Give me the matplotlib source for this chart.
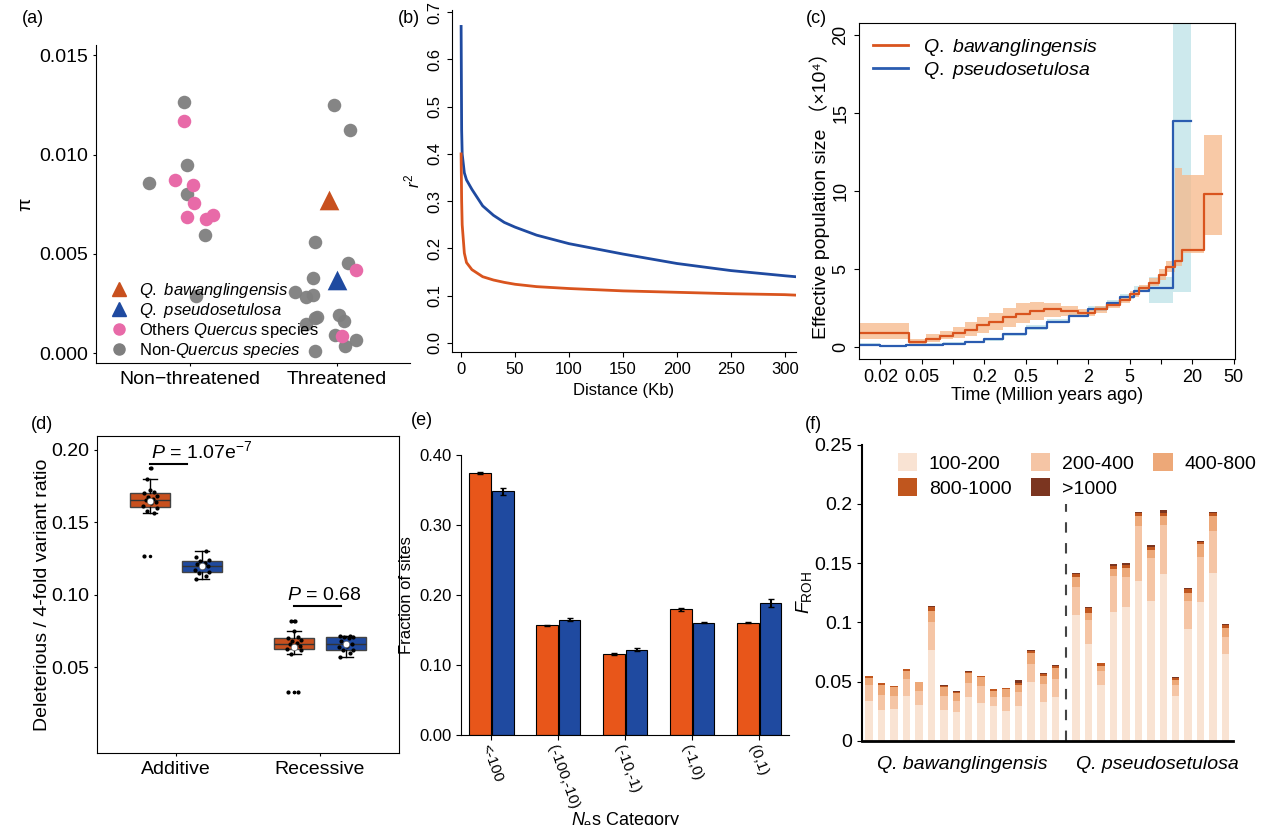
import matplotlib
matplotlib.use("Agg")
import matplotlib.pyplot as plt
import numpy as np

plt.rcParams['font.family'] = ['Liberation Sans', 'Noto Sans CJK SC', 'DejaVu Sans']
plt.rcParams['font.size'] = 12
plt.rcParams['mathtext.fontset'] = 'custom'
plt.rcParams['mathtext.rm'] = 'Liberation Sans'
plt.rcParams['mathtext.it'] = 'Liberation Sans:italic'

ORANGE = '#c8501e'
BLUE = '#1f4aa0'
PINK = '#e86aa8'
GREY = '#7f7f7f'

# ---- (a) nucleotide diversity ----
grey_non_x = [-0.28, -0.04, -0.02, -0.02, 0.10, 0.04]
grey_non_y = [0.00855, 0.01263, 0.00946, 0.00803, 0.00593, 0.0029]
pink_non_x = [-0.04, -0.10, 0.02, 0.03, -0.02, 0.11, 0.16]
pink_non_y = [0.01167, 0.00874, 0.00845, 0.00756, 0.00687, 0.00677, 0.00695]
grey_thr_x = [-0.02, 0.09, -0.15, -0.16, 0.08, -0.28, -0.21, -0.16, -0.21, -0.15,
              -0.13, 0.02, 0.05, -0.01, 0.06, 0.13, -0.15]
grey_thr_y = [0.01251, 0.01126, 0.00561, 0.00377, 0.00456, 0.0031, 0.00281, 0.00291,
              0.00148, 0.00175, 0.00182, 0.0019, 0.0016, 0.00093, 0.00035, 0.00064, 0.0001]
pink_thr_x = [0.13, 0.04]
pink_thr_y = [0.00416, 0.00084]
bawang_pi = (-0.05, 0.00769)
pseudo_pi = (0.0, 0.0037)

# ---- (b) LD decay ----
ld_dist = [0, 0.5, 1, 3, 5, 10, 20, 30, 40, 50, 70, 100, 150, 200, 250, 300, 310]
ld_pseudo = [0.67, 0.45, 0.40, 0.36, 0.345, 0.325, 0.29, 0.27, 0.255, 0.245, 0.228, 0.21,
             0.188, 0.168, 0.153, 0.142, 0.14]
ld_bawang = [0.40, 0.30, 0.25, 0.19, 0.17, 0.155, 0.14, 0.133, 0.128, 0.124, 0.119, 0.115,
             0.11, 0.107, 0.104, 0.102, 0.101]

# ---- (c) PSMC ----
t_bawang = [0.012, 0.038, 0.055, 0.075, 0.1, 0.13, 0.17, 0.22, 0.3, 0.4, 0.55, 0.75, 1.1,
            1.6, 2.3, 3.0, 4.0, 5.0, 6.2, 7.6, 9.5, 11.2, 13.7, 16.0, 25.9, 38.5]
ne_bawang = [0.9, 0.3, 0.5, 0.7, 0.9, 1.1, 1.4, 1.6, 1.9, 2.1, 2.3, 2.4, 2.3, 2.2, 2.4, 2.7,
             3.0, 3.4, 3.8, 4.1, 4.6, 5.1, 5.5, 6.2, 9.8, 9.8]
band_b_lo = [0.5, 0.1, 0.3, 0.5, 0.6, 0.7, 0.9, 1.1, 1.3, 1.5, 1.7, 1.9, 2.0, 2.0, 2.2, 2.5,
             2.8, 3.2, 3.6, 3.9, 4.3, 4.8, 5.2, 6.0, 7.2, 7.2]
band_b_hi = [1.5, 0.5, 0.8, 1.0, 1.3, 1.6, 1.9, 2.2, 2.5, 2.8, 2.9, 2.8, 2.6, 2.4, 2.6, 2.9,
             3.2, 3.6, 4.0, 4.4, 5.0, 5.5, 11.5, 11.0, 13.6, 13.6]
t_pseudo = [0.012, 0.02, 0.035, 0.05, 0.08, 0.13, 0.2, 0.3, 0.5, 0.8, 1.3, 2.0, 3.0, 4.0,
            5.5, 7.6, 13.0, 19.6]
ne_pseudo = [0.15, 0.05, 0.1, 0.15, 0.2, 0.3, 0.5, 0.8, 1.2, 1.6, 2.0, 2.4, 2.8, 3.2, 3.6,
             3.8, 14.5, 14.5]
band_p_lo = [0.05, 0.0, 0.05, 0.1, 0.15, 0.25, 0.4, 0.7, 1.1, 1.5, 1.9, 2.3, 2.7, 3.1, 3.5,
             2.8, 3.5, 3.5]
band_p_hi = [0.25, 0.15, 0.2, 0.25, 0.3, 0.4, 0.6, 0.9, 1.4, 1.8, 2.2, 2.6, 3.0, 3.4, 3.9,
             4.5, 21.0, 21.0]

# ---- (d) deleterious ratio ----
add_bawang = [0.127, 0.156, 0.158, 0.160, 0.161, 0.163, 0.164, 0.165, 0.166, 0.167, 0.168,
              0.170, 0.171, 0.172, 0.180, 0.187]
add_pseudo = [0.111, 0.113, 0.115, 0.116, 0.117, 0.119, 0.120, 0.121, 0.122, 0.123, 0.124,
              0.126, 0.130]
rec_bawang = [0.033, 0.033, 0.059, 0.062, 0.063, 0.064, 0.065, 0.066, 0.067, 0.068, 0.069,
              0.070, 0.071, 0.075, 0.082, 0.082]
rec_pseudo = [0.057, 0.060, 0.062, 0.062, 0.064, 0.065, 0.066, 0.068, 0.070, 0.071, 0.071,
              0.072, 0.072]

# ---- (e) Nes categories ----
nes_cats = ['<-100', '(-100,-10)', '(-10,-1)', '(-1,0)', '(0,1)']
nes_bawang = [0.375, 0.157, 0.116, 0.180, 0.161]
nes_bawang_err = [0.001, 0.001, 0.001, 0.002, 0.001]
nes_pseudo = [0.349, 0.165, 0.122, 0.161, 0.189]
nes_pseudo_err = [0.005, 0.002, 0.002, 0.001, 0.006]

# ---- (f) FROH ----
roh_classes = ['100-200', '200-400', '400-800', '800-1000', '>1000']
roh_colors = ['#f9e3d3', '#f5c5a5', '#eda878', '#c0561e', '#7b3520']
roh_total = [0.055, 0.049, 0.046, 0.061, 0.050, 0.114, 0.047, 0.042, 0.059, 0.055, 0.044,
             0.045, 0.051, 0.077, 0.057, 0.064,
             0.142, 0.113, 0.066, 0.149, 0.150, 0.193, 0.165, 0.195, 0.054, 0.129, 0.169,
             0.193, 0.099]
roh_100 = [0.034, 0.026, 0.027, 0.038, 0.030, 0.077, 0.026, 0.024, 0.037, 0.032, 0.029,
           0.025, 0.029, 0.050, 0.033, 0.037,
           0.106, 0.082, 0.047, 0.109, 0.113, 0.135, 0.118, 0.141, 0.038, 0.094, 0.117,
           0.142, 0.073]
roh_200 = [0.013, 0.013, 0.011, 0.014, 0.012, 0.023, 0.012, 0.010, 0.012, 0.014, 0.008,
           0.012, 0.012, 0.015, 0.015, 0.015,
           0.024, 0.020, 0.012, 0.030, 0.025, 0.046, 0.036, 0.041, 0.009, 0.024, 0.038,
           0.035, 0.015]
roh_1000 = [0.0005, 0.0005, 0.0, 0.0005, 0.0, 0.001, 0.0005, 0.0005, 0.0005, 0.0005, 0.0005,
            0.0005, 0.002, 0.001, 0.0005, 0.0005,
            0.001, 0.001, 0.0005, 0.001, 0.0015, 0.001, 0.001, 0.0025, 0.001, 0.001, 0.001,
            0.001, 0.001]
roh_800 = [0.0015, 0.0015, 0.0005, 0.0015, 0.0005, 0.003, 0.001, 0.001, 0.0015, 0.001, 0.001,
           0.001, 0.002, 0.002, 0.002, 0.002,
           0.003, 0.004, 0.002, 0.003, 0.003, 0.002, 0.003, 0.003, 0.002, 0.003, 0.002,
           0.002, 0.003]
n_bawang = 16

fig = plt.figure(figsize=(12.71, 8.25), dpi=100)

def clean(ax):
    ax.spines['top'].set_visible(False)
    ax.spines['right'].set_visible(False)

# (a)
ax = fig.add_axes([0.0755, 0.56, 0.247, 0.385])
clean(ax)
ax.scatter(1 + np.array(grey_non_x), grey_non_y, s=95, c=GREY, alpha=0.95, lw=0)
ax.scatter(2 + np.array(grey_thr_x), grey_thr_y, s=95, c=GREY, alpha=0.95, lw=0)
ax.scatter(1 + np.array(pink_non_x), pink_non_y, s=95, c=PINK, lw=0)
ax.scatter(2 + np.array(pink_thr_x), pink_thr_y, s=95, c=PINK, lw=0)
ax.scatter([2 + bawang_pi[0]], [bawang_pi[1]], marker='^', s=200, c=ORANGE, lw=0)
ax.scatter([2 + pseudo_pi[0]], [pseudo_pi[1]], marker='^', s=200, c=BLUE, lw=0)
ax.set_xlim(0.36, 2.5)
ax.set_ylim(-0.0005, 0.0155)
ax.set_xticks([1, 2])
ax.set_xticklabels(['Non\u2212threatened', 'Threatened'], fontsize=14)
ax.set_yticks([0, 0.005, 0.01, 0.015])
ax.set_yticklabels(['0.000', '0.005', '0.010', '0.015'], fontsize=14)
ax.tick_params(length=2)
ax.set_ylabel('\u03c0', fontsize=14)
h = [plt.Line2D([], [], marker='^', color=ORANGE, ls='', ms=10),
     plt.Line2D([], [], marker='^', color=BLUE, ls='', ms=10),
     plt.Line2D([], [], marker='o', color=PINK, ls='', ms=8),
     plt.Line2D([], [], marker='o', color=GREY, ls='', ms=8)]
ax.legend(h, ['$\\it{Q.\\ bawanglingensis}$', '$\\it{Q.\\ pseudosetulosa}$',
              'Others $\\it{Quercus}$ species', 'Non-$\\it{Quercus\\ species}$'],
          loc='lower left', frameon=False, fontsize=12, handletextpad=0.2,
          labelspacing=0.05, borderaxespad=0.0, bbox_to_anchor=(0.0, -0.01))

# (b)
ax = fig.add_axes([0.356, 0.573, 0.27, 0.415])
clean(ax)
ax.plot(ld_dist, ld_pseudo, color=BLUE, lw=2)
ax.plot(ld_dist, ld_bawang, color='#d9541e', lw=2)
ax.set_xlim(-8, 310)
ax.set_ylim(-0.02, 0.705)
ax.set_yticks(np.arange(0, 0.71, 0.1))
ax.set_yticklabels(['0.0', '0.1', '0.2', '0.3', '0.4', '0.5', '0.6', '0.7'], rotation=90,
                   va='center', fontsize=12)
ax.set_xticks([0, 50, 100, 150, 200, 250, 300])
ax.tick_params(labelsize=12)
ax.set_xlabel('Distance (Kb)', fontsize=12)
ax.set_ylabel('$r^2$', fontsize=12)

# (c)
ax = fig.add_axes([0.676, 0.565, 0.296, 0.407])
ax.fill_between(t_pseudo, band_p_lo, band_p_hi, step='post', color='#b8e0e6', alpha=0.7, lw=0)
ax.fill_between(t_bawang, band_b_lo, band_b_hi, step='post', color='#f6b889', alpha=0.75, lw=0)
ax.step(t_pseudo, ne_pseudo, where='post', color='#2a5cb0', lw=1.6)
ax.step(t_bawang, ne_bawang, where='post', color='#d9541e', lw=1.6)
ax.set_xscale('log')
ax.set_xlim(0.0125, 52)
ax.set_ylim(-0.77, 20.77)
ax.set_xticks([0.02, 0.05, 0.1, 0.2, 0.5, 1, 2, 5, 10, 20, 50])
ax.set_xticklabels(['0.02', '0.05', '', '0.2', '0.5', '', '2', '5', '', '20', '50'])
ax.minorticks_off()
ax.set_yticks([0, 5, 10, 15, 20])
ax.set_yticklabels(['0', '5', '10', '15', '20'], rotation=90, va='center')
ax.tick_params(labelsize=13)
ax.set_xlabel('Time (Million years ago)', fontsize=13, labelpad=1)
ax.set_ylabel('Effective population size \uff08\u00d710\u2074\uff09', fontsize=14, labelpad=2)
ax.plot([], [], color='#d9541e', lw=2, label='$\\it{Q.\\ bawanglingensis}$')
ax.plot([], [], color='#2a5cb0', lw=2, label='$\\it{Q.\\ pseudosetulosa}$')
ax.legend(loc='upper left', frameon=False, fontsize=14, handlelength=1.8,
          labelspacing=0.1, borderaxespad=0.3)

# (d)
ax = fig.add_axes([0.076, 0.087, 0.238, 0.385])
pos = [0.82, 1.18, 1.82, 2.18]
groups = [add_bawang, add_pseudo, rec_bawang, rec_pseudo]
bp = ax.boxplot(groups, positions=pos, widths=0.28, patch_artist=True,
                flierprops=dict(marker='o', ms=1.5, mfc='black', mec='black'),
                medianprops=dict(color='#333333', lw=1), whis=1.5)
for patch, col in zip(bp['boxes'], [ORANGE, BLUE, ORANGE, BLUE]):
    patch.set_facecolor(col)
    patch.set_edgecolor('#444444')
for cap in bp['caps']:
    cap.set_xdata(np.mean(cap.get_xdata()) + np.array([-0.05, 0.05]))
jit = [-0.04, 0.03, -0.02, 0.05, -0.05, 0.01, 0.04, -0.03, 0.02, -0.01, 0.05, -0.04,
       0.03, 0.0, -0.02, 0.01]
for p, g in zip(pos, groups):
    ax.scatter(p + np.array(jit[:len(g)]), g, s=4, c='black', zorder=3)
    ax.scatter([p], [np.mean(g)], s=22, c='white', edgecolors='#555555', lw=0.4, zorder=4)
ax.plot([0.82, 1.08], [0.19, 0.19], color='black', lw=1.5)
ax.text(0.83, 0.1915, '$\\it{P}$ = 1.07e$^{-7}$', fontsize=14, va='bottom')
ax.plot([1.82, 2.15], [0.092, 0.092], color='black', lw=1.5)
ax.text(1.77, 0.094, '$\\it{P}$ = 0.68', fontsize=14, va='bottom')
ax.set_xlim(0.45, 2.55)
ax.set_ylim(-0.009, 0.2096)
ax.set_xticks([1, 2])
ax.set_xticklabels(['Additive', 'Recessive'], fontsize=14)
ax.set_yticks([0.05, 0.10, 0.15, 0.20])
ax.set_yticklabels(['0.05', '0.10', '0.15', '0.20'], fontsize=14)
ax.tick_params(length=2)
ax.set_ylabel('Deleterious / 4-fold variant ratio', fontsize=14, labelpad=0)

# (e)
ax = fig.add_axes([0.363, 0.109, 0.258, 0.339])
clean(ax)
xe = np.arange(len(nes_cats))
ax.bar(xe - 0.17, nes_bawang, 0.32, yerr=nes_bawang_err, color='#e8561a', edgecolor='black',
       lw=0.8, capsize=2)
ax.bar(xe + 0.17, nes_pseudo, 0.32, yerr=nes_pseudo_err, color=BLUE, edgecolor='black',
       lw=0.8, capsize=2)
ax.set_xlim(-0.45, 4.45)
ax.set_ylim(0, 0.40)
ax.set_yticks([0, 0.1, 0.2, 0.3, 0.4])
ax.set_yticklabels(['0.00', '0.10', '0.20', '0.30', '0.40'])
ax.set_xticks(xe)
ax.set_xticklabels(nes_cats, rotation=-70, ha='left', rotation_mode='anchor', fontsize=11)
ax.tick_params(axis='y', labelsize=12)
ax.tick_params(axis='x', pad=2)
ax.set_ylabel('Fraction of sites', fontsize=12)
ax.set_xlabel('$\\it{N}_{\\rm e}$s Category', fontsize=13, labelpad=0)

# (f)
ax = fig.add_axes([0.678, 0.102, 0.292, 0.359])
clean(ax)
xf = np.concatenate([np.arange(n_bawang), np.arange(len(roh_total) - n_bawang) + n_bawang + 0.65])
roh_400 = [t - a - b - c - d for t, a, b, c, d in zip(roh_total, roh_100, roh_200, roh_800, roh_1000)]
bottom = np.zeros(len(roh_total))
handles = []
for lab, vals, col in zip(roh_classes, [roh_100, roh_200, roh_400, roh_800, roh_1000], roh_colors):
    handles.append(ax.bar(xf, vals, 0.6, bottom=bottom, color=col, label=lab))
    bottom += np.array(vals)
ax.axvline(n_bawang - 0.18, ymin=0, ymax=0.8, color='#444444', ls=(0, (5, 5)), lw=1.5)
ax.set_xlim(-0.6, xf[-1] + 0.6)
ax.set_ylim(0, 0.25)
ax.set_xticks([])
ax.set_yticks([0, 0.05, 0.1, 0.15, 0.2, 0.25])
ax.set_yticklabels(['0', '0.05', '0.1', '0.15', '0.2', '0.25'], fontsize=14)
ax.spines['left'].set_linewidth(1.5)
ax.spines['bottom'].set_linewidth(2)
ax.set_ylabel('$\\it{F}_{\\rm ROH}$', fontsize=14, labelpad=0)
ax.text(7.5, -0.013, 'Q. bawanglingensis', style='italic', fontsize=14, ha='center', va='top')
ax.text(23.2, -0.013, 'Q. pseudosetulosa', style='italic', fontsize=14, ha='center', va='top')
# column-major order so rows read 100-200, 200-400, 400-800 / 800-1000, >1000
order = [0, 3, 1, 4, 2]
ax.legend([handles[i] for i in order], [roh_classes[i] for i in order],
          loc='upper left', ncol=3, frameon=False, fontsize=14, handlelength=1.0,
          handleheight=1.0, columnspacing=1.0, labelspacing=0.3, handletextpad=0.6,
          bbox_to_anchor=(0.05, 1.03))

for lab, x, y in [('(a)', 0.017, 0.978), ('(b)', 0.313, 0.978), ('(c)', 0.634, 0.978),
                  ('(d)', 0.024, 0.485), ('(e)', 0.323, 0.49), ('(f)', 0.633, 0.485)]:
    fig.text(x, y, lab, fontsize=13, va='center')

fig.savefig('out.png', dpi=100)
